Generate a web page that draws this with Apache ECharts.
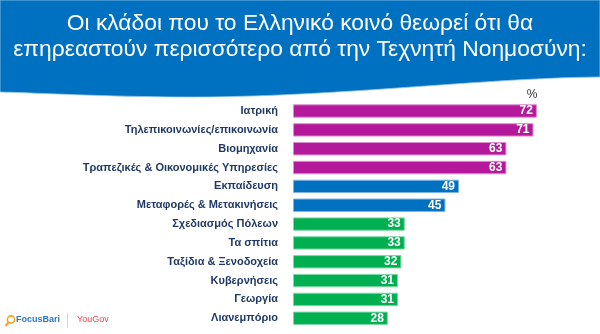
<!DOCTYPE html>
<html>
<head>
<meta charset="utf-8">
<script src="https://cdn.jsdelivr.net/npm/echarts@6/dist/echarts.min.js"></script>
<style>
  html, body { margin: 0; padding: 0; background: #ffffff; }
  #chart { width: 600px; height: 334px; }
</style>
</head>
<body>
<div id="chart"></div>
<script>
// Sectors, top to bottom
const categories = [
  'Ιατρική',
  'Τηλεπικοινωνίες/επικοινωνία',
  'Βιομηχανία',
  'Τραπεζικές & Οικονομικές Υπηρεσίες',
  'Εκπαίδευση',
  'Μεταφορές & Μετακινήσεις',
  'Σχεδιασμός Πόλεων',
  'Τα σπίτια',
  'Ταξίδια & Ξενοδοχεία',
  'Κυβερνήσεις',
  'Γεωργία',
  'Λιανεμπόριο'
];
// Share of respondents (%)
const values = [72, 71, 63, 63, 49, 45, 33, 33, 32, 31, 31, 28];
// Colour group for each sector: 0 = highest tier, 1 = middle, 2 = lower
const groups = [0, 0, 0, 0, 1, 1, 2, 2, 2, 2, 2, 2];

const groupFill = ['#B4199C', '#0070C0', '#00B050'];
const groupEdge = ['#DC8CCF', '#7FB4E0', '#7FD7A8'];

const titleLines = [
  'Οι κλάδοι που το Ελληνικό κοινό θεωρεί ότι θα',
  'επηρεαστούν περισσότερο από την Τεχνητή Νοημοσύνη:'
];

// Wavy lower edge of the header banner, sampled from two cubic curves
function cubic(p0, p1, p2, p3, n) {
  const pts = [];
  for (let i = 0; i <= n; i++) {
    const t = i / n, u = 1 - t;
    pts.push([
      u*u*u*p0[0] + 3*u*u*t*p1[0] + 3*u*t*t*p2[0] + t*t*t*p3[0],
      u*u*u*p0[1] + 3*u*u*t*p1[1] + 3*u*t*t*p2[1] + t*t*t*p3[1]
    ]);
  }
  return pts;
}
const bannerEdge = cubic([600, 77], [480, 78], [330, 98], [180, 97], 30)
  .concat(cubic([180, 97], [100, 96.5], [40, 93], [0, 92], 20).slice(1));
const bannerPoints = [[0, 0], [600, 0]].concat(bannerEdge);

const titleFont = '22.8px "Liberation Sans", Arial, sans-serif';

const chart = echarts.init(document.getElementById('chart'), null, { renderer: 'canvas' });

chart.setOption({
  animation: false,
  backgroundColor: '#ffffff',
  grid: { left: 293, right: 36, top: 101.6, bottom: 6.3, containLabel: false },
  xAxis: {
    type: 'value', min: 0, max: 80,
    show: false
  },
  yAxis: {
    type: 'category',
    data: categories,
    inverse: true,
    axisLine: { show: false },
    axisTick: { show: false },
    axisLabel: {
      margin: 15,
      color: '#1F3864',
      fontFamily: 'Liberation Sans, Arial, sans-serif',
      fontWeight: 'bold',
      fontSize: 11
    }
  },
  series: [{
    type: 'bar',
    barCategoryGap: '29%',
    data: values.map((v, i) => ({
      value: v,
      itemStyle: {
        color: groupFill[groups[i]],
        borderColor: groupEdge[groups[i]],
        borderWidth: 1
      }
    })),
    label: {
      show: true,
      position: 'insideRight',
      distance: 4,
      color: '#ffffff',
      fontFamily: 'Liberation Sans, Arial, sans-serif',
      fontWeight: 'bold',
      fontSize: 12
    }
  }],
  graphic: [
    {
      type: 'polygon', z: 0,
      shape: { points: bannerPoints },
      style: { fill: '#0070C0', stroke: '#9CC6EA', lineWidth: 0.8 }
    },
    {
      type: 'text', z: 10, x: 300, y: 24,
      style: {
        text: titleLines[0], fill: '#ffffff', font: titleFont,
        align: 'center', verticalAlign: 'middle'
      }
    },
    {
      type: 'text', z: 10, x: 300, y: 49.5,
      style: {
        text: titleLines[1], fill: '#ffffff', font: titleFont,
        align: 'center', verticalAlign: 'middle'
      }
    },
    {
      type: 'text', z: 10, x: 532, y: 95,
      style: {
        text: '%', fill: '#333333', align: 'center', verticalAlign: 'middle',
        font: '12px "Liberation Sans", Arial, sans-serif'
      }
    },
    // footer logos
    {
      type: 'circle', z: 10,
      shape: { cx: 11, cy: 319.5, r: 3.6 },
      style: { fill: 'none', stroke: '#F5A623', lineWidth: 1.6 }
    },
    {
      type: 'line', z: 10,
      shape: { x1: 8.5, y1: 322.5, x2: 5.5, y2: 326 },
      style: { stroke: '#F5A623', lineWidth: 2 }
    },
    {
      type: 'text', z: 10, x: 16, y: 320,
      style: {
        text: 'FocusBari', fill: '#2A78C8', verticalAlign: 'middle',
        font: 'bold 9px "Liberation Sans", Arial, sans-serif'
      }
    },
    {
      type: 'line', z: 10,
      shape: { x1: 67.5, y1: 313, x2: 67.5, y2: 328 },
      style: { stroke: '#d8d8d8', lineWidth: 1 }
    },
    {
      type: 'text', z: 10, x: 77, y: 320,
      style: {
        text: 'YouGov', fill: '#E5484D', verticalAlign: 'middle',
        font: '9px "Liberation Sans", Arial, sans-serif'
      }
    }
  ]
});
</script>
</body>
</html>
